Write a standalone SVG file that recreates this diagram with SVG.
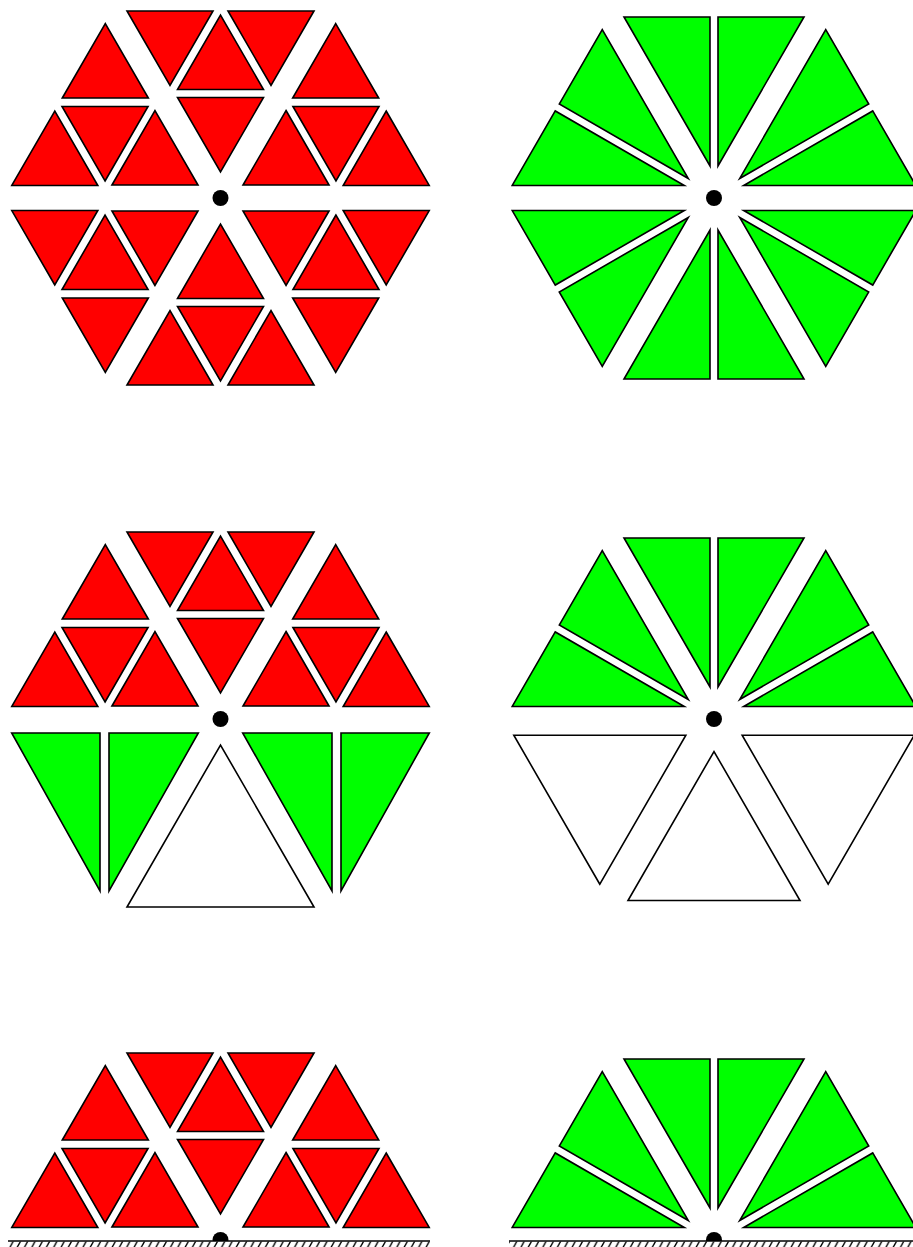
<svg xmlns="http://www.w3.org/2000/svg" xmlns:xlink="http://www.w3.org/1999/xlink" width="913" height="1247" viewBox="0 0 913 1247">
<style>
.r{fill:#ff0000;stroke:#000;stroke-width:1.6;stroke-linejoin:miter}
.g{fill:#00ff00;stroke:#000;stroke-width:1.6;stroke-linejoin:miter}
.w{fill:#ffffff;stroke:#000;stroke-width:1.6;stroke-linejoin:miter}
.dot{fill:#000}
.ground{stroke:#000;stroke-width:1.6;fill:none}
</style>
<defs>
<g id="redCell">
<polygon class="r" points="-93.5,-187 -7.5,-187 -50.5,-112.5"/>
<polygon class="r" points="7.5,-187 93.5,-187 50.5,-112.5"/>
<polygon class="r" points="-43,-108.5 43,-108.5 0,-183"/>
<polygon class="r" points="-43,-100.5 43,-100.5 0,-26"/>
</g>
<g id="greenCell">
<polygon class="g" points="-90,-181 -4,-181 -4,-32"/>
<polygon class="g" points="4,-181 90,-181 4,-32"/>
</g>
<polygon id="whiteR" class="w" points="-86,-181.5 86,-181.5 0,-32.5"/>
<polygon id="whiteL" class="w" points="-93.5,-188 93.5,-188 0,-26"/>
<pattern id="hatch" patternUnits="userSpaceOnUse" x="8" y="1241" width="7.3" height="8">
<line x1="5.4" y1="0" x2="1.8" y2="6.5" stroke="#000" stroke-width="1.4"/>
</pattern>
</defs>

<!-- Row 1 left: red hexagon -->
<g id="hex1L">
<g id="hex1L-top"><use xlink:href="#redCell" transform="translate(220.5,198)"/></g>
<g id="hex1L-ur"><use xlink:href="#redCell" transform="translate(220.5,198) rotate(60)"/></g>
<g id="hex1L-lr"><use xlink:href="#redCell" transform="translate(220.5,198) rotate(120)"/></g>
<g id="hex1L-bot"><use xlink:href="#redCell" transform="translate(220.5,198) rotate(180)"/></g>
<g id="hex1L-ll"><use xlink:href="#redCell" transform="translate(220.5,198) rotate(240)"/></g>
<g id="hex1L-ul"><use xlink:href="#redCell" transform="translate(220.5,198) rotate(300)"/></g>
<circle class="dot" cx="220.5" cy="198" r="8"/>
</g>

<!-- Row 1 right: green hexagon -->
<g id="hex1R">
<g id="hex1R-top"><use xlink:href="#greenCell" transform="translate(714,198)"/></g>
<g id="hex1R-ur"><use xlink:href="#greenCell" transform="translate(714,198) rotate(60)"/></g>
<g id="hex1R-lr"><use xlink:href="#greenCell" transform="translate(714,198) rotate(120)"/></g>
<g id="hex1R-bot"><use xlink:href="#greenCell" transform="translate(714,198) rotate(180)"/></g>
<g id="hex1R-ll"><use xlink:href="#greenCell" transform="translate(714,198) rotate(240)"/></g>
<g id="hex1R-ul"><use xlink:href="#greenCell" transform="translate(714,198) rotate(300)"/></g>
<circle class="dot" cx="714" cy="198" r="8"/>
</g>

<!-- Row 2 left -->
<g id="hex2L">
<g id="hex2L-top"><use xlink:href="#redCell" transform="translate(220.5,719)"/></g>
<g id="hex2L-ur"><use xlink:href="#redCell" transform="translate(220.5,719) rotate(60)"/></g>
<g id="hex2L-ul"><use xlink:href="#redCell" transform="translate(220.5,719) rotate(300)"/></g>
<g id="hex2L-ll">
<polygon class="g" points="11.7,733 100,733 100,891"/>
<polygon class="g" points="109,733 198.3,733 109,891"/>
</g>
<g id="hex2L-lr">
<polygon class="g" points="429.3,733 341,733 341,891"/>
<polygon class="g" points="332,733 242.7,733 332,891"/>
</g>
<g id="hex2L-bot"><use xlink:href="#whiteL" transform="translate(220.5,719) rotate(180)"/></g>
<circle class="dot" cx="220.5" cy="719" r="8"/>
</g>

<!-- Row 2 right -->
<g id="hex2R">
<g id="hex2R-top"><use xlink:href="#greenCell" transform="translate(714,719)"/></g>
<g id="hex2R-ur"><use xlink:href="#greenCell" transform="translate(714,719) rotate(60)"/></g>
<g id="hex2R-ul"><use xlink:href="#greenCell" transform="translate(714,719) rotate(300)"/></g>
<g id="hex2R-lr"><use xlink:href="#whiteR" transform="translate(714,719) rotate(120)"/></g>
<g id="hex2R-bot"><use xlink:href="#whiteR" transform="translate(714,719) rotate(180)"/></g>
<g id="hex2R-ll"><use xlink:href="#whiteR" transform="translate(714,719) rotate(240)"/></g>
<circle class="dot" cx="714" cy="719" r="8"/>
</g>

<!-- Row 3 left -->
<g id="hex3L">
<g id="hex3L-top"><use xlink:href="#redCell" transform="translate(220.5,1240)"/></g>
<g id="hex3L-ur"><use xlink:href="#redCell" transform="translate(220.5,1240) rotate(60)"/></g>
<g id="hex3L-ul"><use xlink:href="#redCell" transform="translate(220.5,1240) rotate(300)"/></g>
<circle class="dot" cx="220.5" cy="1240" r="8"/>
<g id="ground3L">
<rect x="6" y="1241" width="426" height="6" fill="#fff"/>
<rect x="8" y="1241.5" width="422" height="6" fill="url(#hatch)"/>
<line class="ground" x1="8" y1="1241" x2="430" y2="1241"/>
</g>
</g>

<!-- Row 3 right -->
<g id="hex3R">
<g id="hex3R-top"><use xlink:href="#greenCell" transform="translate(714,1240)"/></g>
<g id="hex3R-ur"><use xlink:href="#greenCell" transform="translate(714,1240) rotate(60)"/></g>
<g id="hex3R-ul"><use xlink:href="#greenCell" transform="translate(714,1240) rotate(300)"/></g>
<circle class="dot" cx="714" cy="1240" r="8"/>
<g id="ground3R">
<rect x="506" y="1241" width="407" height="6" fill="#fff"/>
<rect x="509" y="1241.5" width="404" height="6" fill="url(#hatch)"/>
<line class="ground" x1="509" y1="1241" x2="913" y2="1241"/>
</g>
</g>
</svg>
